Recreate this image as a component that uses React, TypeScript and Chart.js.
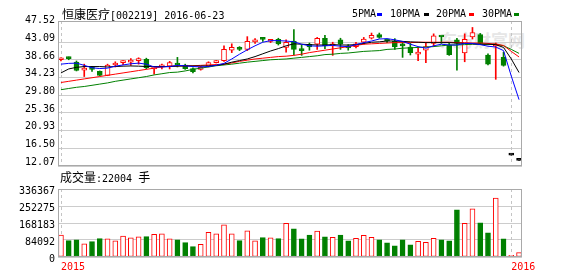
import React, { useEffect, useRef } from 'react';
import { Chart, registerables } from 'chart.js';
Chart.register(...registerables);

// ---------- data ----------
const stockName = '恒康医疗';
const stockCode = '[002219] 2016-06-23';
const volumeName = '成交量';
const volumeText = ':22004 ';
const volumeUnit = '手';
const watermark = '东方财富网';
const legendNames = ['5PMA', '10PMA', '20PMA', '30PMA'];
const yearMarks = [0, 58];
const yearLabels = ['2015', '2016'];
const priceTicks = [12.07, 16.5, 20.93, 25.36, 29.8, 34.23, 38.66, 43.09, 47.52];
const volumeTicks = [0, 84092, 168183, 252275, 336367];

const openP = [38.7, 39.1, 38.1, 36.1, 36.4, 35.8, 34.8, 37.4, 38.0, 38.1,
  38.5, 38.8, 36.4, 36.9, 37.1, 37.5, 37.4, 36.5, 36.3, 37.1,
  38.0, 38.5, 41.1, 41.7, 41.3, 43.2, 43.9, 43.3, 43.8, 41.8,
  43.4, 41.1, 42.6, 42.6, 44.1, 42.2, 43.7, 42.2, 42.0, 43.1,
  44.1, 45.0, 43.5, 43.3, 42.3, 41.9, 40.1, 41.1, 42.8, 44.6,
  42.4, 43.7, 40.4, 44.4, 45.0, 39.9, 42.2, 39.3, 14.8, 13.5];
const closeP = [38.8, 39.0, 36.0, 36.2, 36.3, 34.8, 37.4, 37.5, 38.3, 38.2,
  38.6, 36.7, 36.5, 37.1, 38.0, 37.4, 36.5, 35.7, 36.8, 38.0,
  38.4, 41.3, 41.8, 41.3, 43.3, 43.7, 43.8, 43.5, 42.7, 43.1,
  41.3, 41.0, 41.9, 44.1, 42.2, 42.3, 42.6, 41.7, 42.7, 43.9,
  44.8, 44.3, 43.4, 41.9, 42.2, 40.5, 40.3, 42.0, 44.7, 44.4,
  40.0, 42.8, 43.8, 45.5, 42.8, 37.6, 42.6, 37.3, 14.8, 13.5];
const highP = [39.2, 39.4, 38.4, 37.6, 36.9, 35.9, 37.6, 38.2, 38.5, 39.0,
  39.2, 39.1, 36.9, 37.6, 38.3, 39.3, 37.6, 36.7, 37.0, 38.2,
  38.5, 42.2, 42.7, 42.0, 44.5, 44.0, 44.3, 43.8, 44.1, 43.7,
  46.3, 42.4, 42.9, 44.3, 44.8, 43.1, 44.1, 42.5, 43.1, 44.3,
  45.4, 45.4, 43.9, 44.0, 43.3, 42.8, 41.9, 42.8, 45.2, 44.6,
  42.8, 44.1, 45.2, 46.8, 45.3, 40.2, 42.9, 40.6, 14.8, 13.5];
const lowP = [38.4, 38.7, 35.9, 34.5, 35.8, 34.7, 34.7, 36.9, 37.5, 37.3,
  37.6, 36.4, 35.1, 36.4, 36.4, 36.9, 36.3, 35.4, 36.1, 36.9,
  37.9, 38.3, 40.5, 41.0, 41.0, 42.8, 43.3, 43.0, 42.4, 40.6,
  39.9, 39.8, 41.1, 41.3, 41.5, 39.8, 41.3, 41.1, 41.7, 42.6,
  43.9, 44.1, 43.0, 41.3, 39.3, 39.9, 38.5, 38.0, 42.0, 42.8,
  39.8, 36.1, 38.2, 43.9, 42.5, 37.4, 33.8, 37.1, 14.8, 13.5];

const ma5 = [37.6, 37.8, 37.85, 37.3, 36.7, 36.5, 36.6, 37.1, 37.4, 37.7,
  37.85, 37.6, 36.9, 36.9, 37.0, 37.3, 37.2, 37.0, 36.9, 37.0,
  37.3, 37.8, 38.9, 40.1, 41.2, 42.2, 43.1, 43.5, 43.5, 43.4,
  43.2, 42.6, 42.2, 42.1, 42.2, 42.3, 42.1, 42.0, 42.5, 43.0,
  43.4, 43.9, 44.0, 43.7, 43.3, 42.6, 42.0, 41.6, 42.2, 42.6,
  42.4, 42.4, 42.8, 42.8, 42.5, 42.1, 41.9, 41.0, 34.6, 28.7];
const ma10 = [35.4, 36.4, 36.8, 37.0, 37.0, 37.0, 36.9, 37.0, 37.1, 37.15,
  37.1, 37.0, 37.0, 37.0, 37.0, 37.1, 37.15, 37.15, 37.15, 37.15,
  37.3, 37.6, 38.1, 38.5, 38.9, 39.5, 40.2, 40.9, 41.5, 42.2,
  42.7, 42.6, 42.5, 42.4, 42.4, 42.5, 42.4, 42.4, 42.5, 42.8,
  43.1, 43.2, 43.4, 43.4, 43.3, 43.2, 43.1, 43.0, 43.0, 43.0,
  43.0, 42.9, 42.8, 42.7, 42.6, 42.6, 42.5, 41.8, 38.9, 35.5];
const ma20 = [33.0, 33.3, 33.6, 33.9, 34.2, 34.5, 34.8, 35.1, 35.4, 35.7,
  36.0, 36.3, 36.6, 36.9, 37.1, 37.15, 37.2, 37.2, 37.3, 37.4,
  37.5, 37.6, 37.9, 38.3, 38.6, 38.9, 39.1, 39.3, 39.5, 39.6,
  39.8, 40.1, 40.5, 40.8, 41.1, 41.4, 41.7, 42.0, 42.3, 42.6,
  42.7, 42.8, 42.9, 43.0, 43.0, 43.0, 43.1, 43.1, 43.1, 43.1,
  43.1, 43.0, 43.0, 42.9, 42.9, 42.8, 42.6, 42.3, 40.8, 39.4];
const ma30 = [31.2, 31.5, 31.8, 32.0, 32.3, 32.6, 32.9, 33.3, 33.6, 33.9,
  34.2, 34.5, 34.9, 35.2, 35.5, 35.6, 35.9, 36.3, 36.6, 36.9,
  37.2, 37.4, 37.6, 37.85, 38.1, 38.3, 38.5, 38.7, 38.8, 38.9,
  39.1, 39.3, 39.5, 39.7, 40.0, 40.1, 40.3, 40.4, 40.6, 40.8,
  40.9, 41.0, 41.3, 41.4, 41.6, 41.7, 41.8, 41.9, 42.0, 42.2,
  42.4, 42.4, 42.5, 42.6, 42.6, 42.6, 42.6, 42.2, 41.3, 40.3];

const volume = [109000, 81000, 84500, 65000, 76000, 91000, 89500, 79500, 104000, 94500,
  99400, 101000, 112700, 114000, 89500, 84500, 71000, 51000, 63000, 122600,
  114000, 159000, 114000, 81000, 129000, 79500, 96000, 94500, 91000, 167000,
  139000, 89500, 109000, 127600, 99400, 97800, 109000, 79500, 92800, 107700,
  97800, 84500, 69600, 54700, 84500, 59700, 77900, 72900, 92800, 84500,
  79500, 233600, 167000, 238600, 169000, 119000, 291600, 89500, 8000, 22004];

// ---------- styles ----------
const RED = '#ff0000';
const GREEN = '#008000';
const BLUE = '#0000ff';
const BLACK = '#000000';
const GRID = '#cccccc';
const FRAME = '#a9a9a9';
const MONO = "'DejaVu Sans Mono'";
const CJK = "'Noto Sans CJK SC'";
const X_MIN = -0.38;
const X_MAX = 59.38;
const AXIS_W = 58;

const idx = openP.map((_, i) => i);
const isFlat = (i: number) => highP[i] === lowP[i];
const isUp = (i: number) => closeP[i] >= openP[i];
const candleColor = (i: number) => (isFlat(i) ? BLACK : isUp(i) ? RED : GREEN);

const framePlugin = {
  id: 'frame',
  beforeDatasetsDraw(chart: any) {
    const { ctx, chartArea: a, scales } = chart;
    const xs = scales.x;
    ctx.save();
    ctx.strokeStyle = '#c4c4c4';
    ctx.lineWidth = 1;
    ctx.setLineDash([3, 3]);
    yearMarks.forEach((m) => {
      const x = Math.round(xs.getPixelForValue(m)) + 0.5;
      ctx.beginPath();
      ctx.moveTo(x, a.top);
      ctx.lineTo(x, a.bottom);
      ctx.stroke();
    });
    ctx.restore();
  },
  afterDraw(chart: any) {
    const { ctx, chartArea: a } = chart;
    ctx.save();
    ctx.strokeStyle = FRAME;
    ctx.lineWidth = 1;
    ctx.strokeRect(a.left + 0.5, a.top + 0.5, a.right - a.left - 1, a.bottom - a.top - 1);
    ctx.restore();
  },
};

const tickFont = { family: MONO, size: 10 };

function priceConfig(): any {
  const line = (arr: number[], color: string) => ({
    type: 'line',
    data: arr.map((v, i) => ({ x: i, y: v })),
    borderColor: color,
    borderWidth: 1,
    pointRadius: 0,
    tension: 0,
    order: 0,
  });
  return {
    type: 'bar',
    data: {
      datasets: [
        line(ma5, BLUE),
        line(ma10, BLACK),
        line(ma20, RED),
        line(ma30, GREEN),
        {
          type: 'bar',
          data: idx.map((i) => ({ x: i, y: [openP[i], closeP[i]] })),
          barThickness: 5,
          grouped: false,
          minBarLength: 2,
          borderWidth: 1,
          borderSkipped: false,
          backgroundColor: (c: any) => (isFlat(c.dataIndex) ? BLACK : isUp(c.dataIndex) ? '#ffffff' : GREEN),
          borderColor: (c: any) => candleColor(c.dataIndex),
          order: 1,
        },
        {
          type: 'bar',
          data: idx.map((i) => ({ x: i, y: [lowP[i], highP[i]] })),
          barThickness: 1,
          grouped: false,
          borderWidth: 0,
          backgroundColor: (c: any) => candleColor(c.dataIndex),
          order: 2,
        },
      ],
    },
    options: {
      animation: false,
      responsive: false,
      events: [],
      layout: { padding: { top: 21, right: 56, bottom: 9, left: 0 } },
      plugins: { legend: { display: false }, tooltip: { enabled: false } },
      scales: {
        x: { type: 'linear', min: X_MIN, max: X_MAX, offset: false, display: false },
        y: {
          type: 'linear',
          min: 12.07,
          max: 48.42,
          afterFit: (s: any) => { s.width = AXIS_W; },
          afterBuildTicks: (s: any) => { s.ticks = priceTicks.map((v) => ({ value: v })); },
          grid: {
            color: (c: any) => (c.tick && c.tick.value === 47.52 ? 'rgba(0,0,0,0)' : GRID),
            drawTicks: false,
          },
          border: { display: false },
          ticks: {
            padding: 3,
            labelOffset: -4,
            color: '#000',
            font: tickFont,
            callback: (v: any) => Number(v).toFixed(2),
          },
        },
      },
    },
    plugins: [framePlugin],
  };
}

function volumeConfig(): any {
  return {
    type: 'bar',
    data: {
      datasets: [
        {
          data: idx.map((i) => ({ x: i, y: volume[i] })),
          barThickness: 5,
          borderWidth: 1,
          borderSkipped: false,
          backgroundColor: (c: any) => (isUp(c.dataIndex) ? '#ffffff' : GREEN),
          borderColor: (c: any) => (isUp(c.dataIndex) ? RED : GREEN),
        },
      ],
    },
    options: {
      animation: false,
      responsive: false,
      events: [],
      layout: { padding: { top: 9, right: 56, bottom: 0, left: 0 } },
      plugins: { legend: { display: false }, tooltip: { enabled: false } },
      scales: {
        x: {
          type: 'linear',
          min: X_MIN,
          max: X_MAX,
          offset: false,
          afterFit: (s: any) => { s.height = 19; },
          afterBuildTicks: (s: any) => { s.ticks = yearMarks.map((v) => ({ value: v })); },
          grid: { display: false, drawTicks: false },
          border: { display: false },
          ticks: {
            autoSkip: false,
            maxRotation: 0,
            align: 'start',
            padding: 4,
            color: RED,
            font: { family: MONO, size: 10 },
            callback: (v: any) => {
              const k = yearMarks.indexOf(Number(v));
              return k >= 0 ? yearLabels[k] : '';
            },
          },
        },
        y: {
          type: 'linear',
          min: 0,
          max: 336367,
          afterFit: (s: any) => { s.width = AXIS_W; },
          afterBuildTicks: (s: any) => { s.ticks = volumeTicks.map((v) => ({ value: v })); },
          grid: { color: GRID, drawTicks: false },
          border: { display: false },
          ticks: {
            padding: 3,
            labelOffset: 2,
            color: '#000',
            font: tickFont,
            callback: (v: any) => String(v),
          },
        },
      },
    },
    plugins: [framePlugin],
  };
}

const legendColors = [BLUE, BLACK, RED, GREEN];
const legendTextX = [352, 390, 436, 482];
const legendBoxX = [377, 424, 469, 514];

export default function App() {
  const priceRef = useRef<HTMLCanvasElement>(null);
  const volRef = useRef<HTMLCanvasElement>(null);

  useEffect(() => {
    const c1 = new Chart(priceRef.current as HTMLCanvasElement, priceConfig());
    const c2 = new Chart(volRef.current as HTMLCanvasElement, volumeConfig());
    return () => {
      c1.destroy();
      c2.destroy();
    };
  }, []);

  const abs = (left: number, top: number): React.CSSProperties => ({
    position: 'absolute',
    left,
    top,
    whiteSpace: 'nowrap',
    lineHeight: '12px',
    fontSize: 12,
    color: '#000',
  });

  return (
    <div style={{ position: 'fixed', left: 0, top: 0, width: 578, height: 276, background: '#fff', overflow: 'hidden' }}>
      <div style={{ ...abs(440, 27), font: `bold 17px ${CJK}`, color: '#e6e6e6', lineHeight: '20px' }}>{watermark}</div>
      <canvas ref={priceRef} width={578} height={175} style={{ position: 'absolute', left: 0, top: 0, width: 578, height: 175 }} />
      <canvas ref={volRef} width={578} height={96} style={{ position: 'absolute', left: 0, top: 180, width: 578, height: 96 }} />
      <div style={abs(62, 8)}>
        <span style={{ font: `12px ${CJK}`, lineHeight: '12px' }}>{stockName}</span>
        <span style={{ font: `10px ${MONO}`, lineHeight: '12px' }}>{stockCode}</span>
      </div>
      {legendNames.map((n, k) => (
        <React.Fragment key={n}>
          <div style={{ ...abs(legendTextX[k], 8), font: `10px ${MONO}`, lineHeight: '12px' }}>{n}</div>
          <div style={{ position: 'absolute', left: legendBoxX[k], top: 13, width: 5, height: 3, background: legendColors[k] }} />
        </React.Fragment>
      ))}
      <div style={abs(60, 171)}>
        <span style={{ font: `12px ${CJK}`, lineHeight: '12px' }}>{volumeName}</span>
        <span style={{ font: `10px ${MONO}`, lineHeight: '12px' }}>{volumeText}</span>
        <span style={{ font: `12px ${CJK}`, lineHeight: '12px' }}>{volumeUnit}</span>
      </div>
    </div>
  );
}
